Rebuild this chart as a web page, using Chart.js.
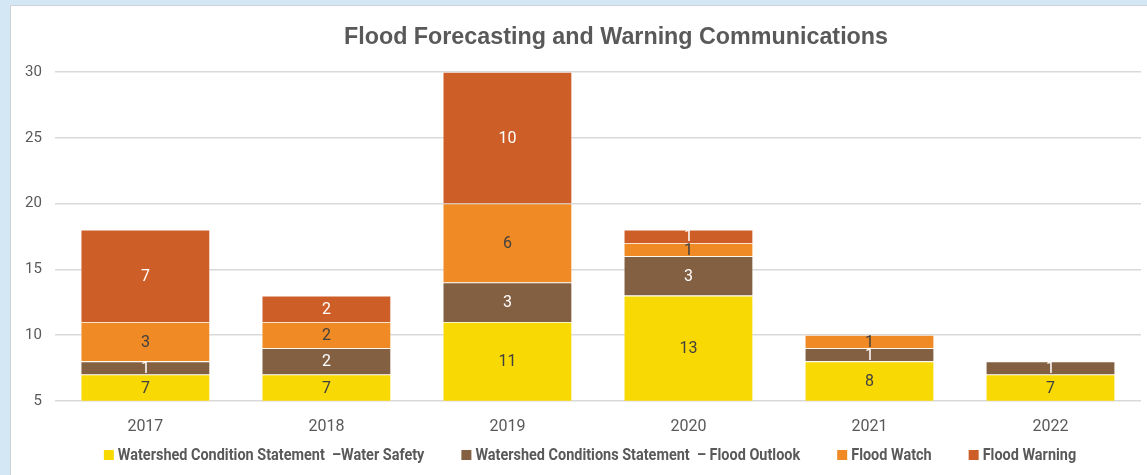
<!DOCTYPE html>
<html><head><meta charset="utf-8">
<script src="https://cdn.jsdelivr.net/npm/chart.js@4"></script>
<style>
html,body{margin:0;padding:0;background:#d4e7f4;overflow:hidden;width:1147px;height:475px;}
#panel{position:absolute;left:10px;top:5px;width:1137px;height:470px;background:#fff;border-left:1px solid #cdd2d6;border-top:1px solid #cdd2d6;}
#wrap{position:absolute;left:0;top:0;width:1136px;height:469px;}
</style></head><body>
<div id="panel"><div id="wrap"><canvas id="c"></canvas></div></div>
<script>
const years = ['2017', '2018', '2019', '2020', '2021', '2022'];
const waterSafety = [7, 7, 11, 13, 8, 7];
const floodOutlook = [1, 2, 3, 3, 1, 1];
const floodWatch = [3, 2, 6, 1, 1, 0];
const floodWarning = [7, 2, 10, 1, 0, 0];
const seriesNames = [
  'Watershed Condition Statement  \u2013Water Safety',
  'Watershed Conditions Statement  \u2013 Flood Outlook',
  'Flood Watch',
  'Flood Warning'
];
const yTickValues = [5, 10, 15, 20, 25, 30];
const chartTitle = 'Flood Forecasting and Warning Communications';

const fillColors = ['#f9d904', '#846042', '#ef8a24', '#cd5e28'];
const labelColors = ['#404040', '#ffffff', '#404040', '#ffffff'];
const seriesData = [waterSafety, floodOutlook, floodWatch, floodWarning];

const valueLabels = {
  id: 'valueLabels',
  afterDatasetsDraw(chart) {
    const ctx = chart.ctx, area = chart.chartArea;
    ctx.save();
    ctx.font = '16px Roboto';
    ctx.textAlign = 'center';
    ctx.textBaseline = 'middle';
    chart.data.datasets.forEach((ds, i) => {
      const meta = chart.getDatasetMeta(i);
      meta.data.forEach((bar, j) => {
        const v = ds.data[j];
        if (!v) return;
        const top = Math.max(Math.min(bar.y, bar.base), area.top);
        const bot = Math.min(Math.max(bar.y, bar.base), area.bottom);
        if (bot <= top) return;
        ctx.fillStyle = labelColors[i];
        ctx.fillText(String(v), bar.x, (top + bot) / 2 + 1);
      });
    });
    ctx.restore();
  }
};

const titleAndLegend = {
  id: 'titleAndLegend',
  afterDraw(chart) {
    const ctx = chart.ctx;
    ctx.save();
    ctx.font = 'bold 23.3px "Liberation Sans"';
    ctx.fillStyle = '#595959';
    ctx.textAlign = 'center';
    ctx.textBaseline = 'middle';
    ctx.fillText(chartTitle, 605, 32);

    // legend
    const sx = 0.85, box = 10, boxGap = 4, itemGap = 37, cy = 449;
    ctx.font = 'bold 17px Roboto';
    ctx.textAlign = 'left';
    const widths = seriesNames.map(n => ctx.measureText(n).width * sx);
    const total = widths.reduce((a, w) => a + box + boxGap + w, 0) + itemGap * (widths.length - 1);
    let x = 579 - total / 2;
    seriesNames.forEach((n, i) => {
      ctx.fillStyle = fillColors[i];
      ctx.fillRect(x, cy - box / 2, box, box);
      x += box + boxGap;
      ctx.fillStyle = '#595959';
      ctx.save();
      ctx.translate(x, cy + 1);
      ctx.scale(sx, 1);
      ctx.fillText(n, 0, 0);
      ctx.restore();
      x += widths[i] + itemGap;
    });
    ctx.restore();
  }
};

new Chart(document.getElementById('c'), {
  type: 'bar',
  data: {
    labels: years,
    datasets: seriesData.map((d, i) => ({
      label: seriesNames[i],
      data: d,
      backgroundColor: fillColors[i],
      borderColor: 'rgba(255,255,255,0.35)',
      borderWidth: 0.8,
      categoryPercentage: 1,
      barPercentage: 0.715
    }))
  },
  options: {
    responsive: true,
    maintainAspectRatio: false,
    animation: false,
    layout: { padding: { top: 66, left: 1, right: 6, bottom: 21 } },
    scales: {
      x: {
        stacked: true,
        grid: { display: false, drawTicks: false },
        border: { display: false },
        ticks: { color: '#595959', font: { family: 'Roboto', size: 16 }, padding: 17 }
      },
      y: {
        stacked: true,
        min: 5,
        max: 30,
        afterBuildTicks(scale) { scale.ticks = yTickValues.map(v => ({ value: v })); },
        grid: { color: '#d9d9d9', lineWidth: 1.5, drawTicks: false },
        border: { display: false },
        ticks: { color: '#595959', font: { family: 'Roboto', size: 15 }, padding: 13 }
      }
    },
    plugins: {
      title: { display: false },
      tooltip: { enabled: false },
      legend: { display: false }
    }
  },
  plugins: [valueLabels, titleAndLegend]
});
</script>
</body></html>
